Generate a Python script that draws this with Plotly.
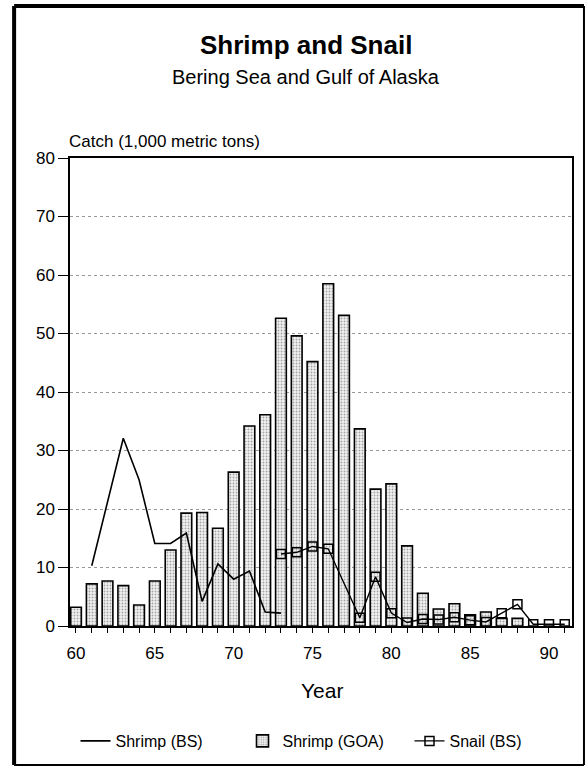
import plotly.graph_objects as go

# ---- data ----
years = [60, 61, 62, 63, 64, 65, 66, 67, 68, 69, 70, 71, 72, 73, 74, 75,
         76, 77, 78, 79, 80, 81, 82, 83, 84, 85, 86, 87, 88, 89, 90, 91]
shrimp_goa = [3.2, 7.2, 7.7, 6.9, 3.6, 7.7, 13.0, 19.3, 19.4, 16.7, 26.3, 34.2,
              36.1, 52.6, 49.6, 45.2, 58.5, 53.1, 33.7, 23.4, 24.3, 13.7, 5.6,
              2.9, 3.8, 1.9, 2.4, 1.3, 1.3, 0, 0, 0]
shrimp_bs_years = [61, 62, 63, 64, 65, 66, 67, 68, 69, 70, 71, 72, 73]
shrimp_bs = [10.3, 21.0, 32.1, 25.0, 14.1, 14.1, 15.9, 4.2, 10.6, 8.0, 9.4, 2.4, 2.2]
snail_years = [73, 74, 75, 76, 78, 79, 80, 81, 82, 83, 84, 85, 86, 87, 88, 89, 90, 91]
snail_bs = [12.3, 12.6, 13.6, 13.2, 1.4, 8.4, 2.2, 0.6, 1.2, 1.1, 1.5, 1.0, 0.7,
            2.2, 3.7, 0.3, 0.3, 0.3]
x_tick_labels = ["60", "", "", "", "", "65", "", "", "", "", "70", "", "", "", "", "75",
                 "", "", "", "", "80", "", "", "", "", "85", "", "", "", "", "90", ""]
y_ticks = [0, 10, 20, 30, 40, 50, 60, 70, 80]

# ---- geometry (pixels) ----
W, H = 588, 772
L, R, T, B = 70, 573, 158, 626
PW, PH = R - L, B - T


def px(x):
    return (x - L) / PW


def py(y):
    return (B - y) / PH


FONT = "Liberation Sans, Arial, Helvetica, sans-serif"

fig = go.Figure()

fig.add_trace(go.Bar(
    x=years, y=shrimp_goa, name="Shrimp (GOA)", width=0.68,
    marker=dict(color="#eeeeee",
                line=dict(color="black", width=1.6),
                pattern=dict(shape=".", fgcolor="#555555", bgcolor="#f2f2f2",
                             size=3, solidity=0.3)),
))
fig.add_trace(go.Scatter(
    x=shrimp_bs_years, y=shrimp_bs, name="Shrimp (BS)", mode="lines",
    line=dict(color="black", width=1.6),
))
fig.add_trace(go.Scatter(
    x=snail_years, y=snail_bs, name="Snail (BS)", mode="lines+markers",
    line=dict(color="black", width=1.4),
    marker=dict(symbol="square-open", size=9, color="black",
                line=dict(color="black", width=1.5)),
))

fig.update_layout(
    width=W, height=H,
    margin=dict(l=L, r=W - R, t=T, b=H - B, pad=0),
    paper_bgcolor="white", plot_bgcolor="white",
    font=dict(family=FONT, color="black", size=15),
    bargap=0.3,
    showlegend=True,
    legend=dict(orientation="h", x=px(326), xanchor="center",
                y=py(741), yanchor="middle", bgcolor="rgba(0,0,0,0)",
                font=dict(size=16), traceorder="normal",
                itemwidth=30, entrywidthmode="pixels", entrywidth=122),
    xaxis=dict(range=[59.62, 91.46], tickmode="array", tickvals=years,
               ticktext=x_tick_labels, ticks="outside", ticklen=5,
               tickwidth=1, tickcolor="black", showline=True, linecolor="black",
               linewidth=1.5, mirror=True, showgrid=False, zeroline=False,
               tickfont=dict(size=17), ticklabelstandoff=6),
    yaxis=dict(range=[0, 80], tickmode="array", tickvals=y_ticks,
               ticks="outside", ticklen=10, tickwidth=1, tickcolor="black",
               showline=True, linecolor="black", linewidth=1.5, mirror=True,
               showgrid=True, gridcolor="#999999", gridwidth=1, griddash="dot",
               zeroline=False, tickfont=dict(size=17)),
)

# legend order: Shrimp (BS), Shrimp (GOA), Snail (BS)
fig.data[0].legendrank = 2
fig.data[1].legendrank = 1
fig.data[2].legendrank = 3

annotations = [
    dict(text="<b>Shrimp and Snail</b>", x=px(306), y=py(45), font=dict(size=26)),
    dict(text="Bering Sea and Gulf of Alaska", x=px(306), y=py(77), font=dict(size=20)),
    dict(text="Catch (1,000 metric tons)", x=px(67), y=py(142), xanchor="left",
         font=dict(size=17)),
    dict(text="Year", x=px(323), y=py(690), font=dict(size=21)),
]
for a in annotations:
    a.setdefault("xanchor", "center")
    fig.add_annotation(xref="paper", yref="paper", yanchor="middle",
                       showarrow=False, **a)

# outer frame
frame = [
    (14, 6, 14, 765, 4),
    (14, 6, 585, 6, 4),
    (585, 6, 585, 765, 2),
    (14, 765, 585, 765, 2),
]
for x0, y0, x1, y1, w in frame:
    fig.add_shape(type="line", xref="paper", yref="paper",
                  x0=px(x0), y0=py(y0), x1=px(x1), y1=py(y1),
                  line=dict(color="black", width=w))

fig.write_html("out.html", config={"displayModeBar": False},
               post_script="document.body.style.margin='0px';"
                           "document.body.style.overflow='hidden';")
